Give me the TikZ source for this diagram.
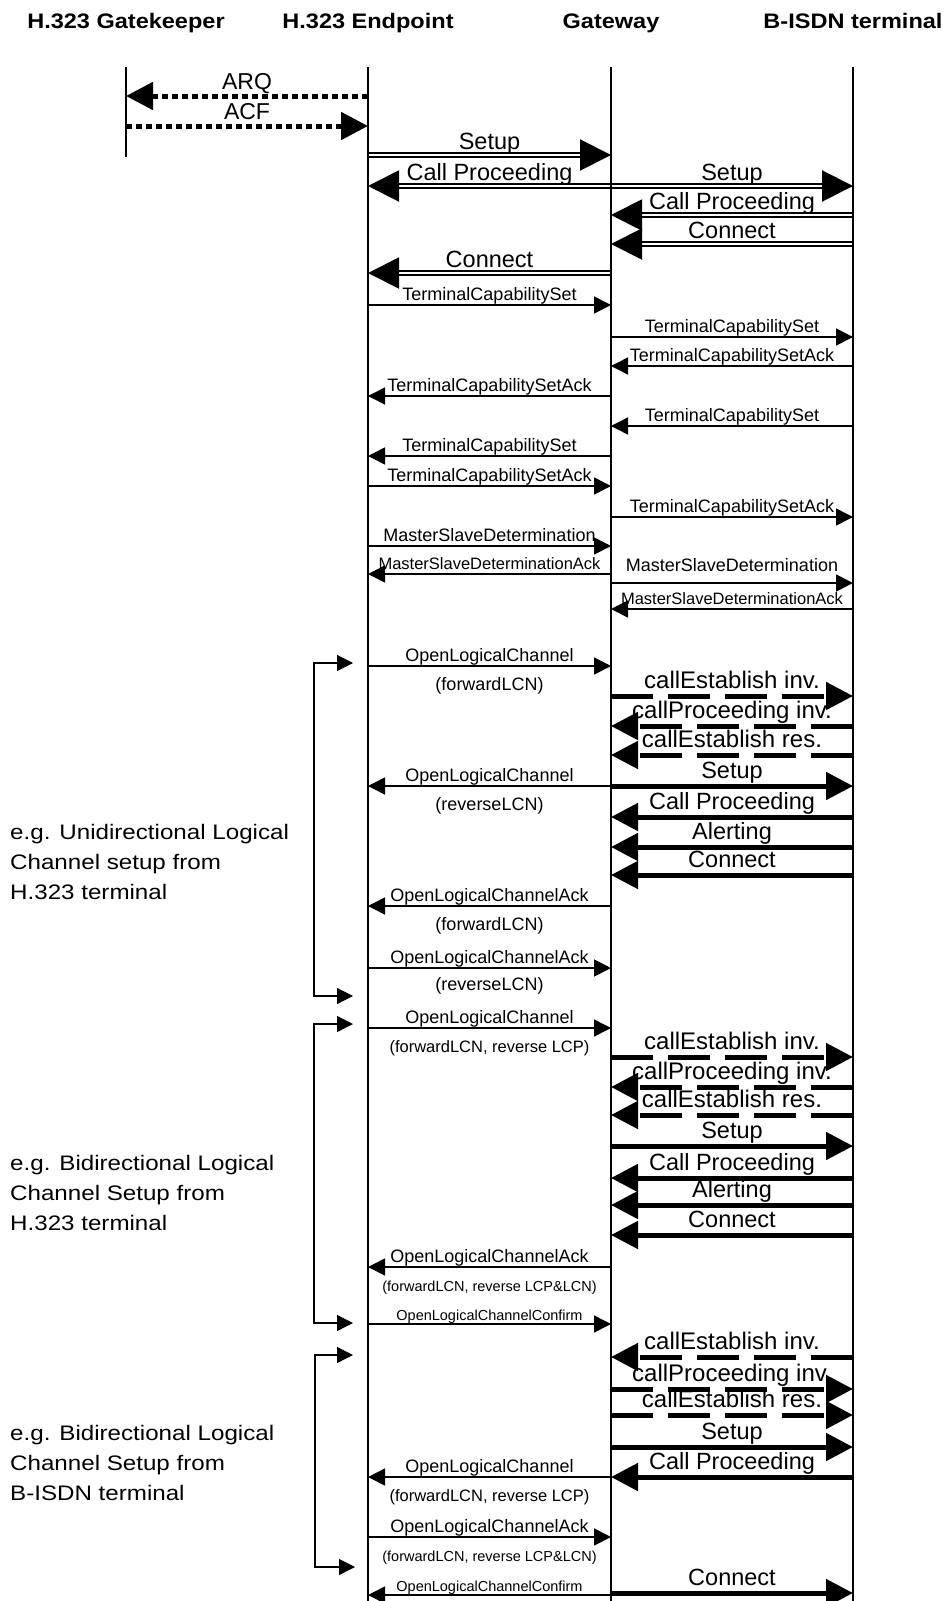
\documentclass[tikz,border=0pt]{standalone}
\usepackage{fontspec}
\setmainfont{Liberation Sans}
\newfontfamily\widefont[FakeStretch=1.15]{Liberation Sans}
\newfontfamily\headfont[FakeStretch=1.12]{Liberation Sans}
\usetikzlibrary{arrows.meta}

\begin{document}
\begin{tikzpicture}[x=1pt, y=-1pt,
  lifeline/.style={line width=2.7pt},
  headtxt/.style={font=\headfont\bfseries\fontsize{21}{24}\selectfont, anchor=base, inner sep=0pt},
  sidetxt/.style={font=\widefont\fontsize{21}{30}\selectfont, align=left, anchor=base west, inner sep=0pt},
  dotmsg/.style={line width=5pt, dash pattern=on 6pt off 4pt, -{Triangle[length=27pt, width=27pt]}},
  dblmsg/.style={double, double distance=2pt, line width=2pt, -{Triangle[length=31pt, width=31pt]}},
  thinmsg/.style={line width=1.5pt, -{Triangle[length=17pt, width=17pt]}},
  thickmsg/.style={line width=5pt, -{Triangle[length=27pt, width=27pt]}},
  dashmsg/.style={thickmsg, dash pattern=on 42pt off 15pt},
  bracket/.style={line width=1.2pt, {Triangle[length=16pt, width=16pt]}-{Triangle[length=16pt, width=16pt]}},
  lblbig/.style={midway, above, inner sep=0pt, font=\fontsize{23.5}{26}\selectfont, text depth=5pt},
  lblmid/.style={midway, above, inner sep=0pt, font=\fontsize{18}{20}\selectfont, text depth=4pt},
  lblsm/.style={midway, above, inner sep=0pt, font=\fontsize{16.5}{18}\selectfont, text depth=3.6pt},
  lbltiny/.style={midway, above, inner sep=0pt, font=\fontsize{14.5}{16}\selectfont, text depth=3.2pt},
  sublbl/.style={midway, anchor=base, inner sep=0pt, yshift=-24pt, font=\fontsize{18}{20}\selectfont}]
  \useasboundingbox (0,0) rectangle (947,1601);
  % Entities
  \node[headtxt] (gk) at (126,28) {H.323 Gatekeeper};
  \node[headtxt] (ep) at (368,28) {H.323 Endpoint};
  \node[headtxt] (gw) at (611,28) {Gateway};
  \node[headtxt] (bt) at (853,28) {B-ISDN terminal};
  % Admission
  \draw[dotmsg] (ep |- 0,96) -- (gk |- 0,96) node[midway, above, inner sep=0pt, text depth=4.5pt, font=\fontsize{23}{26}\selectfont] {ARQ};
  \draw[dotmsg] (gk |- 0,126) -- (ep |- 0,126) node[midway, above, inner sep=0pt, text depth=4.5pt, font=\fontsize{23}{26}\selectfont] {ACF};
  % Call setup (double lines)
  \draw[dblmsg] (ep |- 0,155) -- (gw |- 0,155) node[lblbig] {Setup};
  \draw[dblmsg] (gw |- 0,186) -- (ep |- 0,186) node[lblbig] {Call Proceeding};
  \draw[dblmsg] (gw |- 0,186) -- (bt |- 0,186) node[lblbig] {Setup};
  \draw[dblmsg] (bt |- 0,215) -- (gw |- 0,215) node[lblbig] {Call Proceeding};
  \draw[dblmsg] (bt |- 0,244) -- (gw |- 0,244) node[lblbig] {Connect};
  \draw[dblmsg] (gw |- 0,273) -- (ep |- 0,273) node[lblbig] {Connect};
  % Capability exchange
  \draw[thinmsg] (ep |- 0,305) -- (gw |- 0,305) node[lblmid] {TerminalCapabilitySet};
  \draw[thinmsg] (gw |- 0,337) -- (bt |- 0,337) node[lblmid] {TerminalCapabilitySet};
  \draw[thinmsg] (bt |- 0,366) -- (gw |- 0,366) node[lblmid] {TerminalCapabilitySetAck};
  \draw[thinmsg] (gw |- 0,396) -- (ep |- 0,396) node[lblmid] {TerminalCapabilitySetAck};
  \draw[thinmsg] (bt |- 0,426) -- (gw |- 0,426) node[lblmid] {TerminalCapabilitySet};
  \draw[thinmsg] (gw |- 0,456) -- (ep |- 0,456) node[lblmid] {TerminalCapabilitySet};
  \draw[thinmsg] (ep |- 0,486) -- (gw |- 0,486) node[lblmid] {TerminalCapabilitySetAck};
  \draw[thinmsg] (gw |- 0,517) -- (bt |- 0,517) node[lblmid] {TerminalCapabilitySetAck};
  % Master/slave determination
  \draw[thinmsg] (ep |- 0,546) -- (gw |- 0,546) node[lblmid] {MasterSlaveDetermination};
  \draw[thinmsg] (gw |- 0,574) -- (ep |- 0,574) node[lblsm] {MasterSlaveDeterminationAck};
  \draw[thinmsg] (gw |- 0,583) -- (bt |- 0,583) node[lblmid, yshift=7pt] {MasterSlaveDetermination};
  \draw[thinmsg] (bt |- 0,609) -- (gw |- 0,609) node[lblsm] {MasterSlaveDeterminationAck};
  % Unidirectional logical channel from H.323 terminal
  \coordinate (b1top) at (353,663);
  \coordinate (b1bot) at (353,996);
  \draw[bracket] (b1top) -- (314,663) -- (314,996) -- (b1bot);
  \node[sidetxt] (uni) at (10,899) {e.g. Unidirectional Logical\\Channel setup from\\H.323 terminal};
  \draw[thinmsg] (ep |- 0,666) -- (gw |- 0,666) node[lblmid] {OpenLogicalChannel} node[sublbl] {(forwardLCN)};
  \draw[dashmsg] (gw |- 0,696) -- (bt |- 0,696) node[lblbig, font=\fontsize{24}{26}\selectfont] {callEstablish inv.};
  \draw[dashmsg] (bt |- 0,726) -- (gw |- 0,726) node[lblbig, font=\fontsize{24}{26}\selectfont] {callProceeding inv.};
  \draw[dashmsg] (bt |- 0,755) -- (gw |- 0,755) node[lblbig, font=\fontsize{24}{26}\selectfont] {callEstablish res.};
  \draw[thinmsg] (gw |- 0,786) -- (ep |- 0,786) node[lblmid] {OpenLogicalChannel} node[sublbl] {(reverseLCN)};
  \draw[thickmsg] (gw |- 0,786) -- (bt |- 0,786) node[lblbig] {Setup};
  \draw[thickmsg] (bt |- 0,817) -- (gw |- 0,817) node[lblbig] {Call Proceeding};
  \draw[thickmsg] (bt |- 0,847) -- (gw |- 0,847) node[lblbig] {Alerting};
  \draw[thickmsg] (bt |- 0,875) -- (gw |- 0,875) node[lblbig] {Connect};
  \draw[thinmsg] (gw |- 0,906) -- (ep |- 0,906) node[lblmid] {OpenLogicalChannelAck} node[sublbl] {(forwardLCN)};
  \draw[thinmsg] (ep |- 0,968) -- (gw |- 0,968) node[lblmid] {OpenLogicalChannelAck} node[sublbl, yshift=2pt] {(reverseLCN)};
  % Bidirectional logical channel from H.323 terminal
  \coordinate (b2top) at (353,1024);
  \coordinate (b2bot) at (353,1323);
  \draw[bracket] (b2top) -- (314,1024) -- (314,1323) -- (b2bot);
  \node[sidetxt] (bih) at (10,1230) {e.g. Bidirectional Logical\\Channel Setup from\\H.323 terminal};
  \draw[thinmsg] (ep |- 0,1028) -- (gw |- 0,1028) node[lblmid] {OpenLogicalChannel} node[sublbl, font=\fontsize{16.5}{18}\selectfont] {(forwardLCN, reverse LCP)};
  \draw[dashmsg] (gw |- 0,1057) -- (bt |- 0,1057) node[lblbig, font=\fontsize{24}{26}\selectfont] {callEstablish inv.};
  \draw[dashmsg] (bt |- 0,1087) -- (gw |- 0,1087) node[lblbig, font=\fontsize{24}{26}\selectfont] {callProceeding inv.};
  \draw[dashmsg] (bt |- 0,1115) -- (gw |- 0,1115) node[lblbig, font=\fontsize{24}{26}\selectfont] {callEstablish res.};
  \draw[thickmsg] (gw |- 0,1146) -- (bt |- 0,1146) node[lblbig] {Setup};
  \draw[thickmsg] (bt |- 0,1178) -- (gw |- 0,1178) node[lblbig] {Call Proceeding};
  \draw[thickmsg] (bt |- 0,1205) -- (gw |- 0,1205) node[lblbig] {Alerting};
  \draw[thickmsg] (bt |- 0,1235) -- (gw |- 0,1235) node[lblbig] {Connect};
  \draw[thinmsg] (gw |- 0,1267) -- (ep |- 0,1267) node[lblmid] {OpenLogicalChannelAck} node[sublbl, font=\fontsize{14.5}{16}\selectfont] {(forwardLCN, reverse LCP\&LCN)};
  \draw[thinmsg] (ep |- 0,1324) -- (gw |- 0,1324) node[lbltiny] {OpenLogicalChannelConfirm};
  % Bidirectional logical channel from B-ISDN terminal
  \coordinate (b3top) at (353,1355);
  \coordinate (b3bot) at (355,1567);
  \draw[bracket] (b3top) -- (315,1355) -- (315,1567) -- (b3bot);
  \node[sidetxt] (bib) at (10,1500) {e.g. Bidirectional Logical\\Channel Setup from\\B-ISDN terminal};
  \draw[dashmsg] (bt |- 0,1357) -- (gw |- 0,1357) node[lblbig, font=\fontsize{24}{26}\selectfont] {callEstablish inv.};
  \draw[dashmsg] (gw |- 0,1389) -- (bt |- 0,1389) node[lblbig, font=\fontsize{24}{26}\selectfont] {callProceeding inv.};
  \draw[dashmsg] (gw |- 0,1415) -- (bt |- 0,1415) node[lblbig, font=\fontsize{24}{26}\selectfont] {callEstablish res.};
  \draw[thickmsg] (gw |- 0,1447) -- (bt |- 0,1447) node[lblbig] {Setup};
  \draw[thickmsg] (bt |- 0,1477) -- (gw |- 0,1477) node[lblbig] {Call Proceeding};
  \draw[thinmsg] (gw |- 0,1477) -- (ep |- 0,1477) node[lblmid] {OpenLogicalChannel} node[sublbl, font=\fontsize{16.5}{18}\selectfont] {(forwardLCN, reverse LCP)};
  \draw[thinmsg] (ep |- 0,1537) -- (gw |- 0,1537) node[lblmid] {OpenLogicalChannelAck} node[sublbl, font=\fontsize{14.5}{16}\selectfont] {(forwardLCN, reverse LCP\&LCN)};
  \draw[thinmsg] (gw |- 0,1595) -- (ep |- 0,1595) node[lbltiny] {OpenLogicalChannelConfirm};
  \draw[thickmsg] (gw |- 0,1593) -- (bt |- 0,1593) node[lblbig] {Connect};
  % Lifelines (drawn last)
  \draw[line width=2pt] (gk |- 0,67) -- (gk |- 0,157);
  \draw[lifeline] (ep |- 0,67) -- (ep |- 0,1601);
  \draw[lifeline] (gw |- 0,67) -- (gw |- 0,1601);
  \draw[lifeline] (bt |- 0,67) -- (bt |- 0,1601);
\end{tikzpicture}
\end{document}
